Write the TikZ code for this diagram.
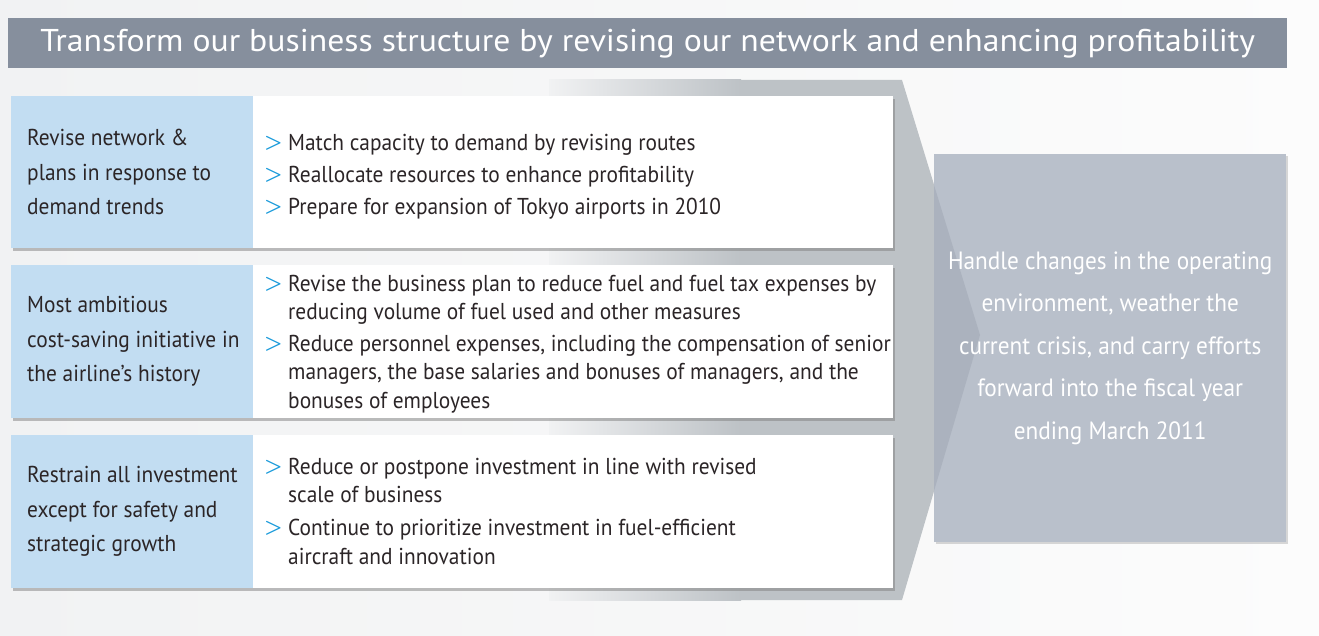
\documentclass[tikz,border=0pt]{standalone}
\usepackage{amsmath}
\usepackage{fontspec}
\setmainfont{PT Sans}[FakeStretch=0.93]
\newfontfamily\titlefont{PT Sans}[FakeStretch=1.07]
\usetikzlibrary{shadows}

\definecolor{pagegray}{HTML}{F1F2F3}
\definecolor{pagewhite}{HTML}{FCFCFC}
\definecolor{bargray}{HTML}{868F9D}
\definecolor{arrowgray}{HTML}{BDC2C6}
\definecolor{tipgray}{HTML}{ABB2BE}
\definecolor{goalgray}{HTML}{B9C0CB}
\definecolor{sideblue}{HTML}{C2DDF2}
\definecolor{markblue}{HTML}{1A9BDB}
\definecolor{inkdark}{HTML}{2B2527}

\tikzset{
  panelbox/.style={fill=white, inner sep=0, minimum width=882pt,
    drop shadow={shadow xshift=2pt, shadow yshift=-3pt, opacity=0.5}},
  sidebox/.style={fill=sideblue, inner sep=0, minimum width=242pt},
  labeltext/.style={inner sep=0, align=left, text=inkdark,
    font=\fontsize{23}{34.5}\selectfont},
  marktext/.style={inner sep=0, text=markblue, font=\fontsize{21}{28.5}\selectfont},
  bullettext/.style={inner sep=0, align=left, text=inkdark,
    font=\fontsize{23}{28.5}\selectfont},
}

% one strategy row: name, top, height, label
\newcommand{\drawpanel}[4]{
  \node[panelbox, minimum height=#3pt, anchor=north west] (#1) at (11,#2) {};
  \node[sidebox, minimum height=#3pt, anchor=north west] (#1side) at (#1.north west) {};
  \node[labeltext, anchor=west] (#1text) at (27,#2+#3/2) {#4};
}
% one bullet: name, centre of first line, text
\newcommand{\drawbullet}[3]{
  \node[marktext, anchor=west] (#1mark) at (264,#2) {$\boldsymbol{>}$};
  \node[bullettext, anchor=north west] (#1) at (288,#2-9) {#3};
}

\begin{document}
\begin{tikzpicture}[x=1pt,y=-1pt]
  \useasboundingbox (0,0) rectangle (1319,636);
  \shade[left color=pagegray, right color=pagewhite] (0,0) rectangle (1319,636);

  % title bar
  \node[fill=bargray, inner sep=0, minimum width=1279pt, minimum height=50pt,
    anchor=north west, text=white, font=\titlefont\fontsize{31.5}{31.5}\selectfont]
    (title) at (8,18) {Transform our business structure by revising our network and enhancing profitability};

  % big arrow behind the rows
  \shade[left color=pagegray, right color=arrowgray] (549,80) rectangle (741,600);
  \fill[arrowgray] (741,80) -- (902,80) -- (980,335) -- (902,600) -- (741,600) -- cycle;

  \drawpanel{revise}{96}{152}{Revise network \&\\plans in response to\\demand trends}
  \drawpanel{cost}{265}{153}{Most ambitious\\cost-saving initiative in\\the airline’s history}
  \drawpanel{invest}{435}{153}{Restrain all investment\\except for safety and\\strategic growth}

  \drawbullet{match}{143}{Match capacity to demand by revising routes}
  \drawbullet{realloc}{175}{Reallocate resources to enhance profitability}
  \drawbullet{tokyo}{207}{Prepare for expansion of Tokyo airports in 2010}

  \drawbullet{fuel}{284}{Revise the business plan to reduce fuel and fuel tax expenses by\\reducing volume of fuel used and other measures}
  \drawbullet{staff}{344}{Reduce personnel expenses, including the compensation of senior\\managers, the base salaries and bonuses of managers, and the\\bonuses of employees}

  \drawbullet{postpone}{467}{Reduce or postpone investment in line with revised\\scale of business}
  \drawbullet{fleet}{528}{Continue to prioritize investment in fuel-efficient\\aircraft and innovation}

  % goal box on the right
  \node[fill=goalgray, inner sep=0, minimum width=352pt, minimum height=388pt, anchor=north west,
    drop shadow={shadow xshift=2pt, shadow yshift=-2pt, opacity=0.3}] (goal) at (934,154) {};
  \fill[tipgray] (934,185) -- (980,335) -- (934,491) -- cycle;
  \node[inner sep=0, align=center, text=white, font=\fontsize{25}{42.5}\selectfont]
    (goaltext) at (goal.center) {Handle changes in the operating\\environment, weather the\\current crisis, and carry efforts\\forward into the fiscal year\\ending March 2011};
\end{tikzpicture}
\end{document}
